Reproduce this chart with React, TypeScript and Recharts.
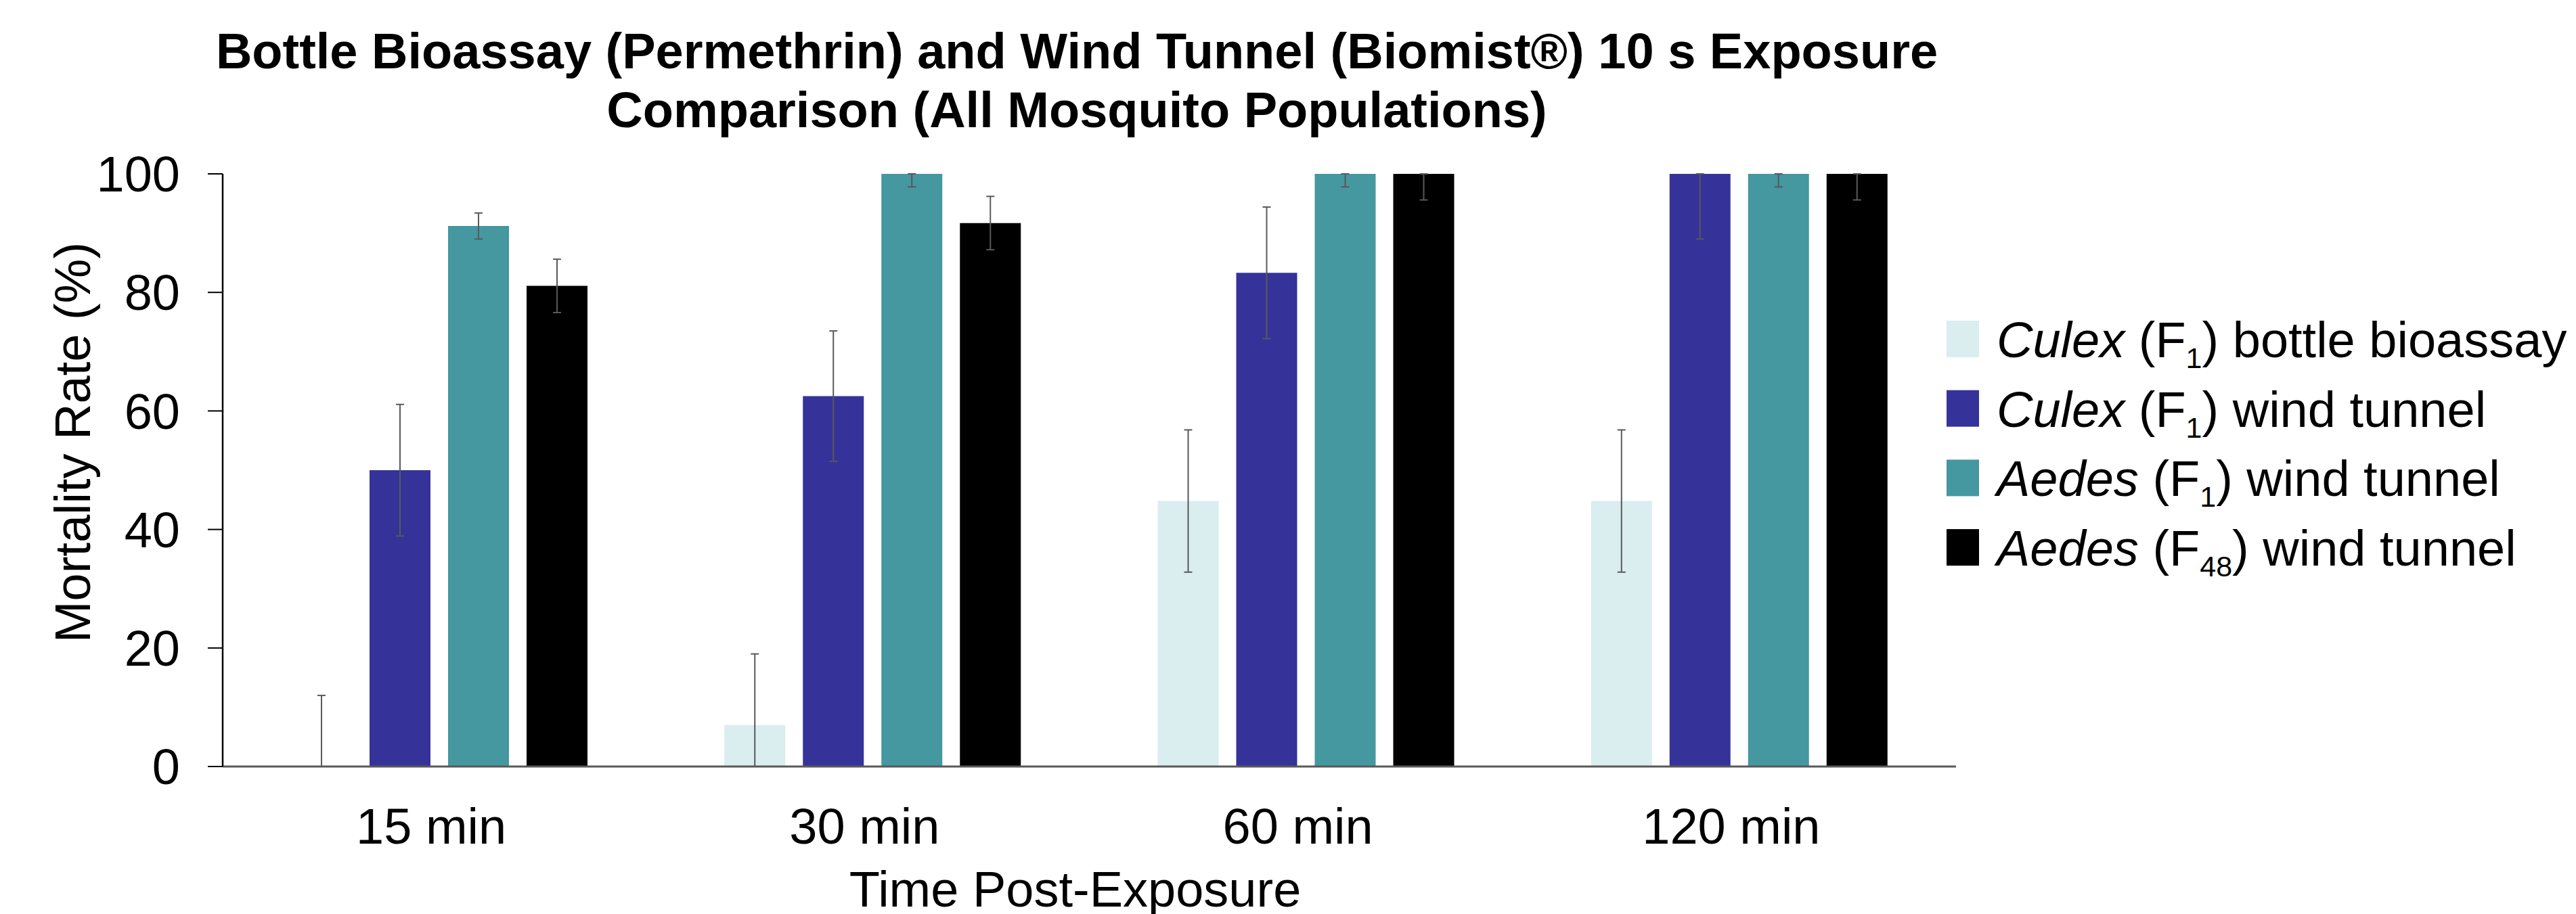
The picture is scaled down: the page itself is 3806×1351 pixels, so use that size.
import { BarChart, Bar, XAxis, YAxis, ErrorBar, Label } from 'recharts';

document.body.style.margin = '0';

const FONT = '"Liberation Sans", Arial, Helvetica, sans-serif';

// values (mortality %, error = +/- half range)
const categories = ['15 min', '30 min', '60 min', '120 min'];
const culexBottle = [0, 7, 44.8, 44.8];
const culexBottleErr = [12, 12, 12, 12];
const culexWind = [50, 62.5, 83.3, 100];
const culexWindErr = [11.1, 11, 11.1, 11];
const aedesF1 = [91.2, 100, 100, 100];
const aedesF1Err = [2.2, 2.2, 2.2, 2.2];
const aedesF48 = [81.1, 91.7, 100, 100];
const aedesF48Err = [4.5, 4.5, 4.4, 4.4];
const yTicks = [0, 20, 40, 60, 80, 100];

const Y_MIN = 0;
const Y_MAX = 100;

const series = [
  { key: 'culexBottle', values: culexBottle, errs: culexBottleErr, genus: 'Culex', sub: '1', rest: 'bottle bioassay', color: '#DAEDEF' },
  { key: 'culexWind', values: culexWind, errs: culexWindErr, genus: 'Culex', sub: '1', rest: 'wind tunnel', color: '#353399' },
  { key: 'aedesF1', values: aedesF1, errs: aedesF1Err, genus: 'Aedes', sub: '1', rest: 'wind tunnel', color: '#4597A0' },
  { key: 'aedesF48', values: aedesF48, errs: aedesF48Err, genus: 'Aedes', sub: '48', rest: 'wind tunnel', color: '#000000' },
];

// error bars are cut at the axis limits, like in the original
const data = categories.map((name, i) => {
  const row: any = { name };
  series.forEach((s) => {
    const v = s.values[i];
    const e = s.errs[i];
    row[s.key] = v;
    row[`${s.key}Err`] = [Math.min(e, v - Y_MIN), Math.min(e, Y_MAX - v)];
  });
  return row;
});

const W = 3806;
const H = 1351;

const CategoryTick = (props: any) => {
  const { x, y, payload } = props;
  return (
    <text x={x - 12} y={y + 114} textAnchor="middle" fontSize={74} fontFamily={FONT} fill="#000">
      {payload.value}
    </text>
  );
};

function LegendBlock() {
  const x0 = 2876;
  const first = 528;
  const step = 102.7;
  return (
    <g>
      {series.map((s, i) => {
        const base = first + i * step;
        return (
          <g key={s.key}>
            <rect x={x0} y={base - 54} width={48} height={54} fill={s.color} />
            <text x={x0 + 74} y={base} fontSize={74} fontFamily={FONT} fill="#000">
              <tspan fontStyle="italic">{s.genus}</tspan>
              <tspan> (F</tspan>
              <tspan fontSize={43} dy={16}>{s.sub}</tspan>
              <tspan dy={-16}>) {s.rest}</tspan>
            </text>
          </g>
        );
      })}
    </g>
  );
}

export default function App() {
  return (
    <div style={{ position: 'relative', width: W, height: H, background: '#fff' }}>
      <BarChart
        width={W}
        height={H}
        data={data}
        margin={{ top: 257, right: 916, bottom: 0, left: 0 }}
        barSize={90}
        barGap={26}
      >
        <XAxis
          dataKey="name"
          height={218}
          tickLine={false}
          tickSize={0}
          tickMargin={0}
          axisLine={{ stroke: '#595959', strokeWidth: 3 }}
          tick={<CategoryTick />}
        >
          <Label
            content={(p: any) => {
              const vb = p.viewBox;
              return (
                <text x={vb.x + vb.width / 2 - 21} y={vb.y + 207} textAnchor="middle" fontSize={74} fontFamily={FONT} fill="#000">
                  Time Post-Exposure
                </text>
              );
            }}
          />
        </XAxis>
        <YAxis
          width={329}
          domain={[Y_MIN, Y_MAX]}
          ticks={yTicks}
          allowDataOverflow
          interval={0}
          tickSize={22}
          tickMargin={41}
          axisLine={{ stroke: '#000', strokeWidth: 2.5 }}
          tickLine={{ stroke: '#000', strokeWidth: 2 }}
          tick={{ fill: '#000', fontSize: 74, fontFamily: FONT }}
        >
          <Label
            content={(p: any) => {
              const vb = p.viewBox;
              const cx = 133;
              const cy = vb.y + vb.height / 2 - 41;
              return (
                <text x={cx} y={cy} transform={`rotate(-90, ${cx}, ${cy})`} textAnchor="middle" fontSize={74} fontFamily={FONT} fill="#000">
                  Mortality Rate (%)
                </text>
              );
            }}
          />
        </YAxis>
        {series.map((s) => (
          <Bar key={s.key} dataKey={s.key} fill={s.color} minPointSize={1} isAnimationActive={false}>
            <ErrorBar dataKey={`${s.key}Err`} width={6} strokeWidth={2} stroke="#595959" direction="y" isAnimationActive={false} />
          </Bar>
        ))}
      </BarChart>
      <svg width={W} height={H} style={{ position: 'absolute', left: 0, top: 0, pointerEvents: 'none' }}>
        <text x={1591} y={101} textAnchor="middle" fontSize={74} fontWeight="bold" fontFamily={FONT} fill="#000">
          Bottle Bioassay (Permethrin) and Wind Tunnel (Biomist®) 10 s Exposure
        </text>
        <text x={1591} y={188} textAnchor="middle" fontSize={74} fontWeight="bold" fontFamily={FONT} fill="#000">
          Comparison (All Mosquito Populations)
        </text>
        <LegendBlock />
      </svg>
    </div>
  );
}
